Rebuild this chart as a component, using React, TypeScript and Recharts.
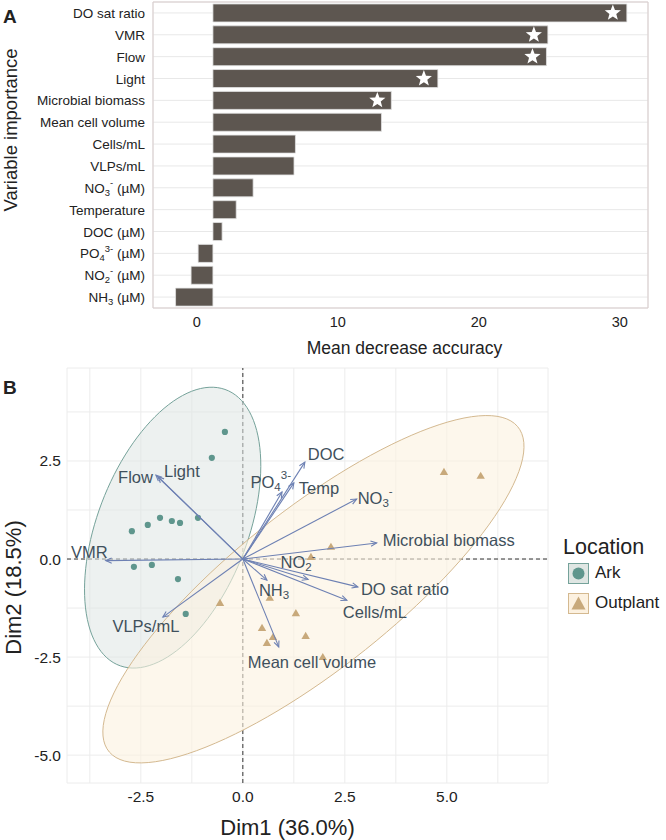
import React from "react";
import {
  BarChart, Bar, XAxis, YAxis, CartesianGrid, ReferenceLine, ReferenceArea, LabelList, Label,
  ScatterChart, Scatter, Legend,
} from "recharts";

const FONT = "'Liberation Sans', Arial, Helvetica, sans-serif";

// ---- panel A: variable importance (random forest) ----
const variables = [
  "DO sat ratio", "VMR", "Flow", "Light", "Microbial biomass", "Mean cell volume",
  "Cells/mL", "VLPs/mL", "NO_{3}^{-} (µM)", "Temperature", "DOC (µM)",
  "PO_{4}^{3-} (µM)", "NO_{2}^{-} (µM)", "NH_{3} (µM)",
];
const importance = [30.5, 24.9, 24.8, 17.1, 13.8, 13.1, 7.0, 6.9, 4.0, 2.8, 1.8, 0.1, -0.4, -1.5];
const significant = [true, true, true, true, true, false, false, false, false, false, false, false, false, false];
const barBase = 1.15;
const xTicksA = [0, 10, 20, 30];
const gridA = [1.15, 5.75, 10.35, 14.95, 19.55, 24.15, 28.75];

// ---- panel B: PCA biplot ----
const locations = ["Ark", "Outplant"];
const arkX = [-0.44, -0.76, -2.72, -2.33, -2.03, -1.74, -1.54, -1.1, -2.67, -2.23, -1.59, -1.4];
const arkY = [3.24, 2.58, 0.71, 0.87, 1.05, 0.97, 0.92, 1.05, -0.2, -0.15, -0.51, -1.4];
const outX = [4.93, 5.83, 2.16, 1.67, 0.66, -0.56, 1.3, 0.47, 1.54, 0.59, 0.74, 1.96];
const outY = [2.22, 2.12, 0.31, 0.05, -0.99, -1.12, -1.38, -1.76, -1.96, -2.14, -1.99, -2.5];
// centre x, centre y, semi-major, semi-minor, angle (deg)
const arkEllipse = [-1.72, 0.8, 3.75, 1.85, 70];
const outEllipse = [1.73, -0.77, 6.5, 2.0, 39.7];

const loadNames = [
  "Flow", "Light", "VMR", "VLPs/mL", "DOC", "PO_{4}^{3-}", "Temp", "NO_{3}^{-}",
  "Microbial biomass", "NO_{2}^{-}", "NH_{3}", "DO sat ratio", "Cells/mL", "Mean cell volume",
];
const loadX = [-2.13, -2.08, -3.36, -1.96, 1.52, 0.96, 1.25, 2.79, 3.28, 1.6, 0.59, 2.82, 2.55, 0.88];
const loadY = [2.14, 2.1, -0.04, -1.48, 2.47, 1.71, 1.94, 1.53, 0.41, -0.52, -0.54, -0.71, -1.05, -2.24];
// label offsets from arrow tip: dx, dy, anchor
const loadLabelPos: [number, number, string][] = [
  [-3, 2, "end"], [6, -6, "start"], [2, -9, "end"], [-17, 9, "middle"], [3, -8, "start"],
  [9, -10, "end"], [5, 5, "start"], [1, -1, "start"], [6, -3, "start"], [-10, -17, "middle"],
  [-8, 10, "start"], [3, 2, "start"], [-4, 12, "start"], [-31, 15, "start"],
];

const ticksBX = [-3.75, -2.5, -1.25, 0, 1.25, 2.5, 3.75, 5, 6.25];
const ticksBY = [-5, -3.75, -2.5, -1.25, 0, 1.25, 2.5, 3.75];

const C = {
  bar: "#5d5650",
  ark: "#5f968d",
  arkFill: "#dfe6e3",
  arkLine: "#75a29a",
  out: "#c8a97b",
  outFill: "#fcf1e0",
  outLine: "#d4b990",
  arrow: "#6d80b3",
  loadText: "#3f505c",
};

function rich(s: string, fs: number) {
  const parts = s.split(/(_\{[^}]*\}|\^\{[^}]*\})/).filter(Boolean);
  let shift = 0;
  return parts.map((p, i) => {
    const kind = p.startsWith("_{") ? 1 : p.startsWith("^{") ? -1 : 0;
    const txt = kind ? p.slice(2, -1) : p;
    const target = kind === 1 ? fs * 0.3 : kind === -1 ? -fs * 0.4 : 0;
    const dy = target - shift;
    shift = target;
    return (
      <tspan key={i} dy={dy} fontSize={kind ? fs * 0.7 : fs}>
        {txt}
      </tspan>
    );
  });
}

function ellipsePoints([cx, cy, a, b, deg]: number[]) {
  const t = (deg * Math.PI) / 180;
  const pts = [];
  for (let i = 0; i <= 120; i++) {
    const s = (i / 120) * 2 * Math.PI;
    const u = a * Math.cos(s);
    const v = b * Math.sin(s);
    pts.push({ x: cx + u * Math.cos(t) - v * Math.sin(t), y: cy + u * Math.sin(t) + v * Math.cos(t) });
  }
  return pts;
}

const barData = variables.map((name, i) => ({ name, value: importance[i], sig: significant[i] }));
const arkData = arkX.map((x, i) => ({ x, y: arkY[i] }));
const outData = outX.map((x, i) => ({ x, y: outY[i] }));
const loadData = loadNames.map((name, i) => ({ name, x: loadX[i], y: loadY[i], i }));

const CatTick = (p: any) => (
  <text x={p.x} y={p.y} textAnchor="end" dominantBaseline="central" fontSize={13.5} fill="#222" fontFamily={FONT}>
    {rich(p.payload.value, 13.5)}
  </text>
);

function starPath(cx: number, cy: number, R: number, r: number) {
  const pts = [];
  for (let k = 0; k < 10; k++) {
    const ang = -Math.PI / 2 + (k * Math.PI) / 5;
    const rad = k % 2 === 0 ? R : r;
    pts.push(`${cx + rad * Math.cos(ang)},${cy + rad * Math.sin(ang)}`);
  }
  return "M" + pts.join("L") + "Z";
}

const StarLabel = (p: any) => {
  if (!barData[p.index]?.sig) return null;
  const cx = p.x + p.width - 14;
  const cy = p.y + p.height / 2;
  return <path d={starPath(cx, cy, 8.5, 3.6)} fill="#fff" />;
};

const ellipseLine = (fill: string, stroke: string, op: number) => (p: any) => {
  const pts = p.points || [];
  if (!pts.length) return <g />;
  const d = "M" + pts.map((q: any) => `${q.x},${q.y}`).join("L") + "Z";
  return <path d={d} fill={fill} fillOpacity={op} stroke={stroke} strokeWidth={1} />;
};

const arrowLine = (p: any) => {
  const pts = p.points || [];
  if (pts.length < 2) return <g />;
  const [o, t] = pts;
  const ang = Math.atan2(t.y - o.y, t.x - o.x);
  const L = 6.5;
  const w = 0.42;
  const h1 = `${t.x - L * Math.cos(ang - w)},${t.y - L * Math.sin(ang - w)}`;
  const h2 = `${t.x - L * Math.cos(ang + w)},${t.y - L * Math.sin(ang + w)}`;
  return (
    <g stroke={C.arrow} strokeWidth={1.1} fill="none">
      <line x1={o.x} y1={o.y} x2={t.x} y2={t.y} />
      <polyline points={`${h1} ${t.x},${t.y} ${h2}`} />
    </g>
  );
};

const LoadLabel = (p: any) => {
  const i = p.payload.i;
  const [dx, dy, anchor] = loadLabelPos[i];
  return (
    <text x={p.cx + dx} y={p.cy + dy} textAnchor={anchor} dominantBaseline="central" fontSize={16.5} fill={C.loadText} fontFamily={FONT}>
      {rich(p.payload.name, 16.5)}
    </text>
  );
};

const none = () => <g />;

const LegendBox = () => (
  <div style={{ fontFamily: FONT, color: "#222" }}>
    <div style={{ fontSize: 21.5, lineHeight: "24px", marginBottom: 4 }}>Location</div>
    {locations.map((loc, i) => (
      <div key={loc} style={{ display: "flex", alignItems: "center", height: 20, marginBottom: 10, marginLeft: 5 }}>
        <svg width={21} height={21} style={{ display: "block" }}>
          <rect x={0.5} y={0.5} width={20} height={20} fill={i === 0 ? C.arkFill : C.outFill} stroke={i === 0 ? C.arkLine : C.outLine} />
          {i === 0 ? (
            <circle cx={10.5} cy={10.5} r={6} fill={C.ark} />
          ) : (
            <path d="M10.5,3.5L17.5,16.5L3.5,16.5Z" fill={C.out} />
          )}
        </svg>
        <span style={{ fontSize: 17, marginLeft: 6 }}>{loc}</span>
      </div>
    ))}
  </div>
);

function PanelA() {
  return (
    <BarChart width={666} height={370} data={barData} layout="vertical" margin={{ top: 2, right: 18, bottom: 0, left: 0 }} barCategoryGap="9%">
      <CartesianGrid vertical={false} stroke="#e8e8e8" />
      <CartesianGrid horizontal={false} xAxisId="grid" stroke="#e8e8e8" />
      <XAxis
        xAxisId="grid"
        type="number"
        domain={[-3.1, 32]}
        allowDataOverflow
        ticks={gridA}
        height={0}
        tick={false}
        tickLine={false}
        axisLine={false}
      />
      <XAxis
        type="number"
        domain={[-3.1, 32]}
        allowDataOverflow
        ticks={xTicksA}
        tickLine={false}
        axisLine={false}
        tickSize={0}
        tickMargin={9}
        height={62}
        tick={{ fontSize: 14.5, fill: "#222", fontFamily: FONT }}
      >
        <Label
          content={({ viewBox }: any) => (
            <text x={viewBox.x + viewBox.width / 2 + 4} y={viewBox.y + 40} textAnchor="middle" dominantBaseline="central" fontSize={17.5} fill="#222" fontFamily={FONT}>
              Mean decrease accuracy
            </text>
          )}
        />
      </XAxis>
      <YAxis type="category" dataKey="name" width={153} interval={0} tick={<CatTick />} tickLine={false} axisLine={false} tickSize={0} tickMargin={8}>
        <Label
          content={({ viewBox }: any) => (
            <g fontFamily={FONT} fill="#222">
              <text x={3} y={viewBox.y + 21} fontSize={19} fontWeight="bold">A</text>
              <text x={10} y={130} transform="rotate(-90, 10, 130)" textAnchor="middle" dominantBaseline="central" fontSize={18.5}>
                Variable importance
              </text>
            </g>
          )}
        />
      </YAxis>
      <Bar
        dataKey={(d: any) => [Math.min(barBase, d.value), Math.max(barBase, d.value)]}
        fill={C.bar}
        stroke="#e2e2e2"
        strokeWidth={0.8}
        isAnimationActive={false}
      >
        <LabelList content={<StarLabel />} />
      </Bar>
      <ReferenceArea x1={-3.1} x2={32} fill="none" stroke="#d9cdcd" strokeWidth={1} />
    </BarChart>
  );
}

function PanelB() {
  const fmt = (v: number) => (Math.abs(v % 2.5) < 1e-9 ? v.toFixed(1) : "");
  return (
    <ScatterChart width={666} height={480} margin={{ top: 8, right: 118, bottom: 0, left: 0 }}>
      <CartesianGrid stroke="#ececec" />
      <XAxis
        type="number"
        dataKey="x"
        domain={[-4.31, 7.48]}
        allowDataOverflow
        ticks={ticksBX}
        tickFormatter={fmt}
        tickLine={false}
        axisLine={false}
        tickSize={0}
        tickMargin={8}
        height={57}
        tick={{ fontSize: 15.5, fill: "#222", fontFamily: FONT }}
      >
        <Label
          content={({ viewBox }: any) => (
            <text x={viewBox.x + viewBox.width / 2 - 20} y={viewBox.y + 44} textAnchor="middle" dominantBaseline="central" fontSize={22} fill="#222" fontFamily={FONT}>
              Dim1 (36.0%)
            </text>
          )}
        />
      </XAxis>
      <YAxis
        type="number"
        dataKey="y"
        domain={[-5.71, 4.87]}
        allowDataOverflow
        ticks={ticksBY}
        tickFormatter={fmt}
        width={67}
        tickLine={false}
        axisLine={false}
        tickSize={0}
        tickMargin={6}
        tick={{ fontSize: 15.5, fill: "#222", fontFamily: FONT }}
      >
        <Label
          content={({ viewBox }: any) => {
            const cy = viewBox.y + viewBox.height / 2 + 12;
            return (
              <g fontFamily={FONT} fill="#222">
                <text x={3} y={viewBox.y + 26} fontSize={19} fontWeight="bold">B</text>
                <text x={13} y={cy} transform={`rotate(-90, 13, ${cy})`} textAnchor="middle" dominantBaseline="central" fontSize={22}>
                  Dim2 (18.5%)
                </text>
              </g>
            );
          }}
        />
      </YAxis>
      <Scatter data={ellipsePoints(arkEllipse)} shape={none} line={ellipseLine(C.arkFill, C.arkLine, 0.55)} lineType="joint" legendType="none" isAnimationActive={false} />
      <Scatter data={ellipsePoints(outEllipse)} shape={none} line={ellipseLine(C.outFill, C.outLine, 0.6)} lineType="joint" legendType="none" isAnimationActive={false} />
      <ReferenceLine x={0} stroke="#333" strokeDasharray="4 3" strokeWidth={1} />
      <ReferenceLine y={0} stroke="#333" strokeDasharray="4 3" strokeWidth={1} />
      <Scatter
        name="Ark"
        data={arkData}
        fill={C.ark}
        shape={(p: any) => <circle cx={p.cx} cy={p.cy} r={3.1} fill={C.ark} />}
        isAnimationActive={false}
      />
      <Scatter
        name="Outplant"
        data={outData}
        fill={C.out}
        shape={(p: any) => <path d={`M${p.cx},${p.cy - 4.2}L${p.cx + 4.2},${p.cy + 3}L${p.cx - 4.2},${p.cy + 3}Z`} fill={C.out} />}
        isAnimationActive={false}
      />
      {loadData.map((d) => (
        <Scatter
          key={d.name}
          data={[{ x: 0, y: 0 }, { x: d.x, y: d.y }]}
          shape={none}
          line={arrowLine}
          lineType="joint"
          legendType="none"
          isAnimationActive={false}
        />
      ))}
      <Scatter data={loadData} shape={(p: any) => <LoadLabel {...p} />} legendType="none" isAnimationActive={false} />
      <Legend layout="vertical" align="center" verticalAlign="middle" wrapperStyle={{ left: 563, top: 175, width: 100 }} content={() => <LegendBox />} />
    </ScatterChart>
  );
}

export default function App() {
  return (
    <div style={{ position: "relative", width: 666, height: 840, background: "#fff" }}>
      <style>{`body{margin:0}`}</style>
      <div style={{ position: "absolute", left: 0, top: 0 }}>
        <PanelA />
      </div>
      <div style={{ position: "absolute", left: 0, top: 360 }}>
        <PanelB />
      </div>
    </div>
  );
}
